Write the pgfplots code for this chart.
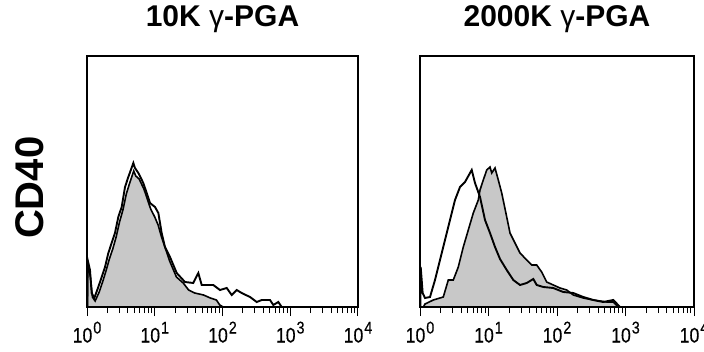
\documentclass[border=0pt]{standalone}
\usepackage{pgfplots}
\pgfplotsset{compat=1.18}
\usepackage{pgfplotstable}
\usepackage{fontspec}
\setmainfont{Liberation Sans}
\newfontfamily\tickfont[FakeStretch=0.84,FakeBold=0.4]{Liberation Sans}
\definecolor{fillgray}{RGB}{200,200,200}

\pgfplotstableread{
d h
0.005 0
0.012 45
0.05 30
0.08 10
0.12 6
0.18 15
0.23 25
0.28 36
0.33 48
0.38 58
0.43 70
0.48 85
0.53 97
0.58 113
0.63 124
0.69 136
0.72 131
0.77 128
0.84 118
0.89 108
0.94 98
1.00 90
1.05 82
1.10 70
1.15 60
1.22 46
1.32 30
1.42 24
1.50 17
1.59 14
1.72 12
1.82 9
1.91 7
1.96 2
2.01 0
}\leftfilled

\pgfplotstableread{
d h
0.005 0
0.010 47
0.044 37
0.069 14
0.108 9
0.167 20
0.217 30
0.266 40
0.315 54
0.364 64
0.413 74
0.462 90
0.512 100
0.561 120
0.610 130
0.684 144
0.708 139
0.758 134
0.831 124
0.881 114
0.930 104
1.004 100
1.053 94
1.102 74
1.151 60
1.225 50
1.324 34
1.446 25
1.569 24
1.643 34
1.693 22
1.864 22
1.963 17
2.062 19
2.136 12
2.210 17
2.283 14
2.406 10
2.505 5
2.579 7
2.701 7
2.750 2
2.824 5
2.874 0
2.920 0
}\leftopen

\pgfplotstableread{
d h
0.05 0
0.073 3
0.194 7
0.340 10
0.413 27
0.486 27
0.559 40
0.632 60
0.705 77
0.778 94
0.851 107
0.876 117
0.924 127
0.974 137
1.022 140
1.047 134
1.095 139
1.143 127
1.193 114
1.266 90
1.314 74
1.387 64
1.460 54
1.558 47
1.631 42
1.704 42
1.776 35
1.849 25
1.946 22
2.044 19
2.142 17
2.238 12
2.384 9
2.530 7
2.726 5
2.822 5
2.895 0
}\rightfilled

\pgfplotstableread{
d h
0.005 0
0.010 40
0.039 14
0.073 9
0.146 10
0.219 27
0.292 47
0.365 67
0.438 87
0.511 107
0.584 120
0.657 125
0.730 134
0.755 137
0.803 124
0.876 110
0.949 87
1.022 74
1.095 60
1.168 48
1.266 37
1.362 27
1.460 22
1.558 24
1.654 28
1.704 22
1.800 20
1.946 19
2.092 15
2.238 14
2.384 10
2.530 7
2.676 5
2.822 7
2.920 0
}\rightopen

\newcommand{\ticklab}[1]{10\kern1pt\raisebox{9pt}{\fontsize{17}{17}\selectfont #1}}

\pgfplotsset{
  facs/.style={
    scale only axis,
    anchor=south west,
    width=272pt, height=251pt,
    xmin=0, xmax=4, ymin=0, ymax=251,
    axis line style={line width=1.2pt},
    xtick={0,1,2,3,4},
    xticklabels={\ticklab{0},\ticklab{1},\ticklab{2},\ticklab{3},\ticklab{4}},
    minor xtick={0.301,0.477,0.602,0.699,0.778,0.845,0.903,0.954,
                 1.301,1.477,1.602,1.699,1.778,1.845,1.903,1.954,
                 2.301,2.477,2.602,2.699,2.778,2.845,2.903,2.954,
                 3.301,3.477,3.602,3.699,3.778,3.845,3.903,3.954},
    ytick=\empty,
    xtick pos=bottom,
    tick align=outside,
    major tick length=9pt,
    minor tick length=6pt,
    every tick/.style={black, line width=1pt},
    xticklabel style={anchor=base, yshift=-26.5pt, inner sep=0pt,
                      font=\tickfont\fontsize{21}{21}\selectfont},
    title style={at={(0.5,1)}, anchor=base, yshift=23pt, inner sep=0pt,
                 font=\fontsize{30}{30}\selectfont\bfseries},
    clip=false,
  }
}

\begin{document}
\begin{tikzpicture}[x=1pt,y=1pt]
\useasboundingbox (0,0) rectangle (704,351);
\begin{axis}[facs, at={(87pt,44pt)}, width=271pt,
  title={10K {\mdseries γ}-PGA},
  ylabel={CD40},
  ylabel style={at={(axis description cs:-0.162,0.475)}, anchor=base, inner sep=0pt,
                font=\fontsize{40}{40}\selectfont\bfseries}]
  \addplot[fill=fillgray, draw=black, line width=1.6pt] table[x=d,y=h] {\leftfilled} \closedcycle;
  \addplot[draw=black, line width=1.9pt] table[x=d,y=h] {\leftopen};
\end{axis}
\begin{axis}[facs, at={(420pt,44pt)}, width=274pt,
  title={2000K {\mdseries γ}-PGA}]
  \addplot[fill=fillgray, draw=black, line width=1.6pt] table[x=d,y=h] {\rightfilled} \closedcycle;
  \addplot[draw=black, line width=1.9pt] table[x=d,y=h] {\rightopen};
\end{axis}
\end{tikzpicture}
\end{document}
